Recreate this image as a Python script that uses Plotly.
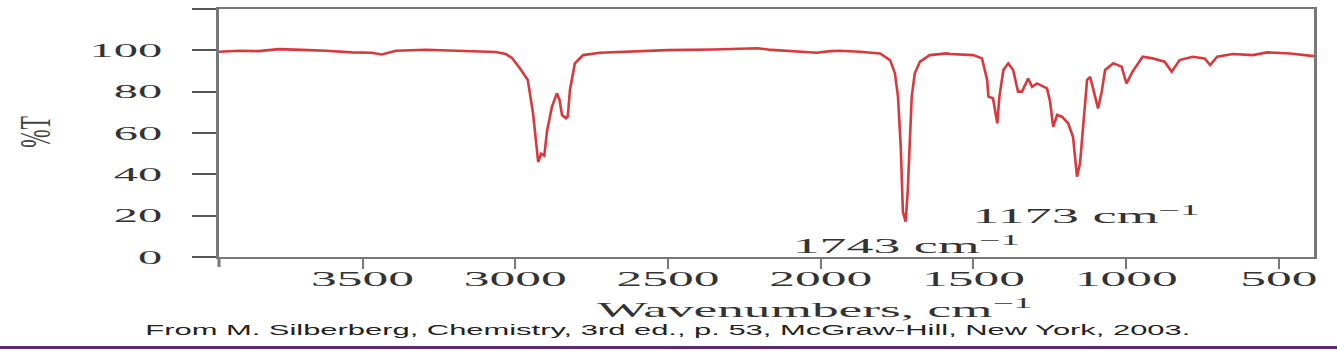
import plotly.graph_objects as go

# IR spectrum (wavenumber cm^-1, %T)
wavenumbers = [3970, 3905, 3840, 3774, 3699, 3620, 3535, 3470, 3437, 3410, 3391, 3293, 3220, 3152,
               3064, 3031, 3011, 2985, 2959, 2942, 2929, 2925, 2915, 2905, 2896, 2880, 2864, 2855,
               2847, 2834, 2828, 2821, 2805, 2778, 2723, 2600, 2503, 2350, 2208, 2160, 2110, 2060,
               2012, 1970, 1937, 1871, 1829, 1806, 1773, 1757, 1747, 1738, 1731, 1722, 1715, 1708,
               1702, 1692, 1675, 1643, 1587, 1577, 1501, 1472, 1455, 1451, 1436, 1422, 1415, 1402,
               1386, 1370, 1354, 1341, 1321, 1308, 1292, 1259, 1249, 1239, 1226, 1210, 1190, 1174,
               1161, 1151, 1141, 1128, 1118, 1105, 1092, 1080, 1069, 1042, 1015, 999, 979, 946,
               913, 874, 851, 825, 782, 743, 725, 702, 651, 585, 539, 463, 397, 385]
transmittance = [99.3, 99.8, 99.6, 100.6, 100.2, 99.8, 99.0, 98.8, 98.0, 99.2, 99.8, 100.3, 100.0, 99.7,
                 99.2, 98.2, 96.3, 91.3, 85.6, 69.7, 53.4, 46.0, 50.0, 49.0, 61.0, 72.7, 79.2, 76.0,
                 68.7, 67.1, 68.0, 80.8, 93.7, 97.7, 98.8, 99.5, 100.1, 100.4, 101.0, 100.2, 99.8, 99.3,
                 98.8, 99.6, 99.8, 99.3, 99.0, 98.5, 95.3, 88.9, 77.6, 53.4, 21.9, 17.1, 32.4, 61.4,
                 77.6, 88.9, 94.5, 97.7, 98.5, 98.2, 97.7, 96.1, 85.6, 77.6, 76.8, 64.7, 77.6, 90.5,
                 93.7, 90.5, 80.0, 80.0, 86.4, 82.4, 84.0, 81.6, 75.1, 63.0, 68.7, 67.9, 64.7, 58.2,
                 38.9, 45.3, 64.7, 85.6, 87.2, 80.0, 71.9, 80.0, 90.5, 93.7, 92.1, 84.0, 89.7, 96.9,
                 96.1, 94.5, 89.7, 95.3, 96.9, 96.1, 92.9, 96.9, 98.2, 97.7, 99.0, 98.5, 97.2, 97.2]

x_ticks = [3500, 3000, 2500, 2000, 1500, 1000, 500]
y_ticks = [0, 20, 40, 60, 80, 100, 120]
y_ticktext = ["0", "20", "40", "60", "80", "100", ""]

SERIF = "Liberation Serif, Times New Roman, serif"
CAPTION = "From M. Silberberg, Chemistry, 3rd ed., p. 53, McGraw-Hill, New York, 2003."

fig = go.Figure()
fig.add_trace(go.Scatter(x=wavenumbers, y=transmittance, mode="lines",
                         line=dict(color="#d8393c", width=2.6), showlegend=False,
                         hoverinfo="skip"))

fig.update_layout(
    width=1337, height=364,
    margin=dict(l=219, r=23, t=9, b=107, autoexpand=False),
    paper_bgcolor="white", plot_bgcolor="white",
    showlegend=False,
)
fig.update_xaxes(
    range=[3970, 385], tickvals=x_ticks, ticks="outside", ticklen=10, tickwidth=1.5,
    tickcolor="#777", showgrid=False, zeroline=False, automargin=False,
    showline=True, linecolor="#777", linewidth=1.5, mirror=True,
    tickfont=dict(family=SERIF, size=22, color="#333"), ticklabelstandoff=-9,
)
fig.update_yaxes(
    range=[0, 120], tickvals=y_ticks, ticktext=y_ticktext, ticks="outside", ticklen=24,
    tickwidth=1.5, tickcolor="#555", showgrid=False, zeroline=False, automargin=False,
    showline=True, linecolor="#777", linewidth=3, mirror=True,
    tickfont=dict(family=SERIF, size=19, color="#333"), ticklabelstandoff=26,
)

fig.add_annotation(text="%T", x=-0.168, y=0.505, xref="paper", yref="paper",
                   xanchor="center", yanchor="middle",
                   textangle=-90, showarrow=False, font=dict(family=SERIF, size=22, color="#444"))
fig.add_annotation(text="Wavenumbers, cm<sup>\u22121</sup>", x=(814.5 - 219) / 1095, y=-0.206,
                   xref="paper", yref="paper", showarrow=False, xanchor="center", yanchor="middle",
                   font=dict(family=SERIF, size=21, color="#333"))
fig.add_annotation(text="1743 cm<sup>\u22121</sup>", x=(906 - 219) / 1095, y=0.048, xref="paper",
                   yref="paper", showarrow=False, xanchor="center", yanchor="middle",
                   font=dict(family=SERIF, size=20, color="#333"))
fig.add_annotation(text="1173 cm<sup>\u22121</sup>", x=(1086 - 219) / 1095, y=0.17, xref="paper",
                   yref="paper", showarrow=False, xanchor="center", yanchor="middle",
                   font=dict(family=SERIF, size=20, color="#333"))
fig.add_annotation(text=CAPTION, x=(667.5 - 219) / 1095, y=-0.294, xref="paper", yref="paper",
                   showarrow=False, xanchor="center", yanchor="middle",
                   font=dict(family="Liberation Sans, Arial, sans-serif", size=14, color="#222"))

# left axis runs a little below the bottom axis
fig.add_shape(type="line", xref="paper", yref="paper", x0=0, x1=0, y0=-0.04, y1=0,
              line=dict(color="#777", width=3))
# purple rule at the bottom of the picture
fig.add_shape(type="line", xref="paper", yref="paper", x0=-0.21, x1=1.03, y0=-0.365, y1=-0.365,
              line=dict(color="#5c2b6e", width=3))

# the reference's lettering is stretched horizontally; reproduce that on the real SVG text
post_js = """
var gd = document.getElementById('{plot_id}');
function fit(t, w) { t.setAttribute('textLength', w); t.setAttribute('lengthAdjust', 'spacingAndGlyphs'); }
gd.querySelectorAll('g.xtick text').forEach(function (t) {
  var w = t.getComputedTextLength(); if (w > 0) fit(t, w * 2.34);
});
gd.querySelectorAll('g.ytick text').forEach(function (t) {
  var w = t.getComputedTextLength(); if (w > 0 && t.textContent.trim()) fit(t, w * 2.55);
});
var targets = [['Wavenumbers', 435], ['1743', 227], ['1173', 227], ['From M.', 1045]];
gd.querySelectorAll('text.annotation-text').forEach(function (t) {
  var s = t.textContent;
  targets.forEach(function (p) { if (s.indexOf(p[0]) === 0) fit(t, p[1]); });
  if (s.indexOf('%T') === 0) {
    var b = t.getBBox(); var cy = b.y + b.height / 2;
    var tr = t.getAttribute('transform') || '';
    t.setAttribute('transform', tr + ' translate(0,' + cy + ') scale(1,2.0) translate(0,' + (-cy) + ')');
  }
});
"""

fig.write_html("out.html", post_script=post_js)
